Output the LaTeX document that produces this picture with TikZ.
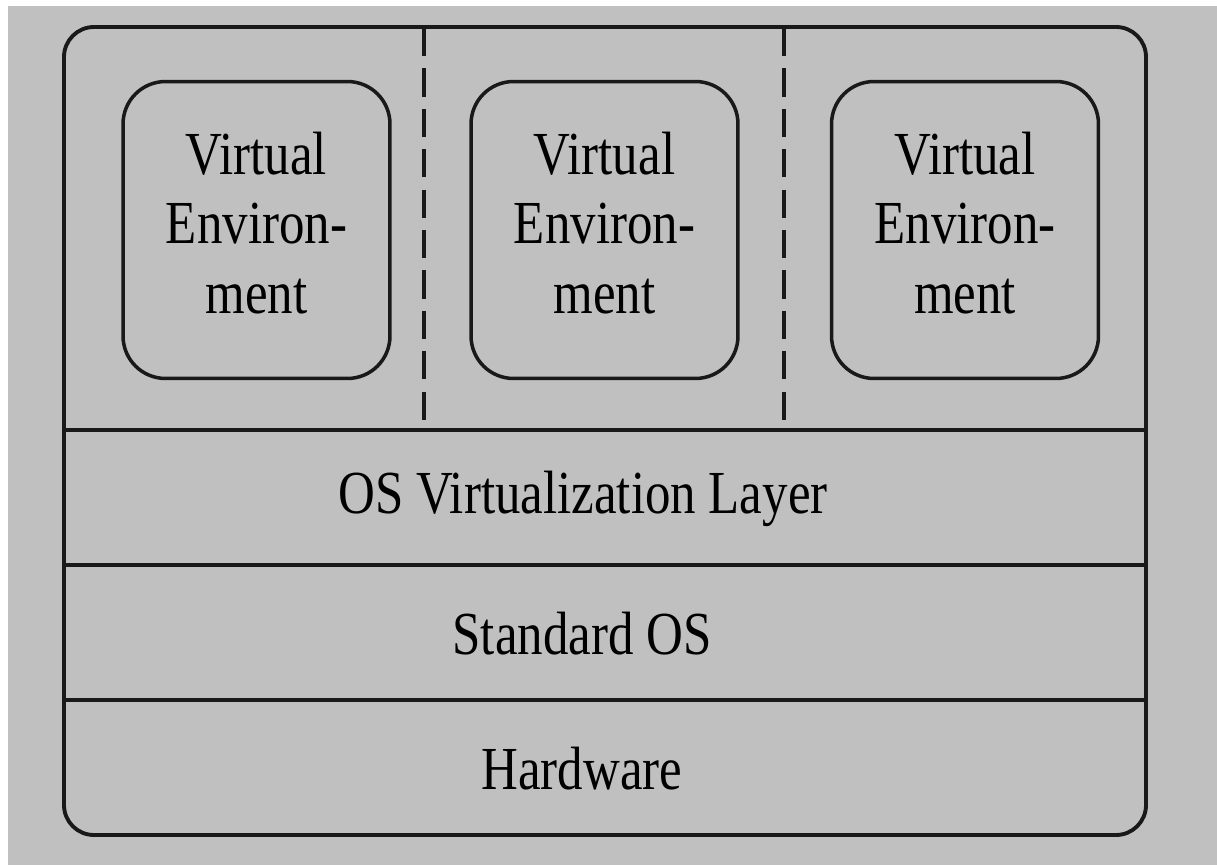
\documentclass[tikz,border=0pt]{standalone}
\usepackage{fontspec}
\setmainfont{Liberation Serif}
\definecolor{bggray}{RGB}{192,192,192}
\definecolor{ink}{RGB}{25,25,25}
\newcommand{\tallbox}[1]{\scalebox{1}[1.2]{#1}}
\tikzset{
  frame/.style={draw=ink,line width=2.2pt},
  sepline/.style={draw=ink,line width=2.2pt,dash pattern=on 16pt off 7pt},
  vebox/.style={rectangle,draw=ink,line width=2pt,rounded corners=0.85cm,
    minimum width=5.34cm,minimum height=5.94cm,inner sep=0pt},
  layertext/.style={inner sep=0pt},
}
\begin{document}
\begin{tikzpicture}[x=0.02cm,y=-0.02cm,font=\fontsize{29}{33}\selectfont]
\useasboundingbox (0,0) rectangle (1217,865);
\fill[bggray] (8,6) rectangle (1217,865);
% outer frame and layers
\draw[frame,rounded corners=0.6cm] (64,27) rectangle (1146,835);
\draw[frame] (64,430) -- (1146,430);
\draw[frame] (64,565) -- (1146,565);
\draw[frame] (64,700) -- (1146,700);
\draw[sepline] (424,28) -- (424,430);
\draw[sepline] (784,28) -- (784,430);
% virtual environments
\node (VE1) at (256.5,230) [vebox] {\tallbox{\begin{tabular}{c}Virtual\\ Environ-\\ ment\end{tabular}}};
\node (VE2) at (604.5,230) [vebox] {\tallbox{\begin{tabular}{c}Virtual\\ Environ-\\ ment\end{tabular}}};
\node (VE3) at (965,230) [vebox] {\tallbox{\begin{tabular}{c}Virtual\\ Environ-\\ ment\end{tabular}}};
% layers
\node (OSV) at (583,499) [layertext] {\tallbox{OS Virtualization Layer}};
\node (SOS) at (582,634) [layertext] {\tallbox{Standard OS}};
\node (HW) at (582,769) [layertext] {\tallbox{Hardware}};
\end{tikzpicture}
\end{document}
